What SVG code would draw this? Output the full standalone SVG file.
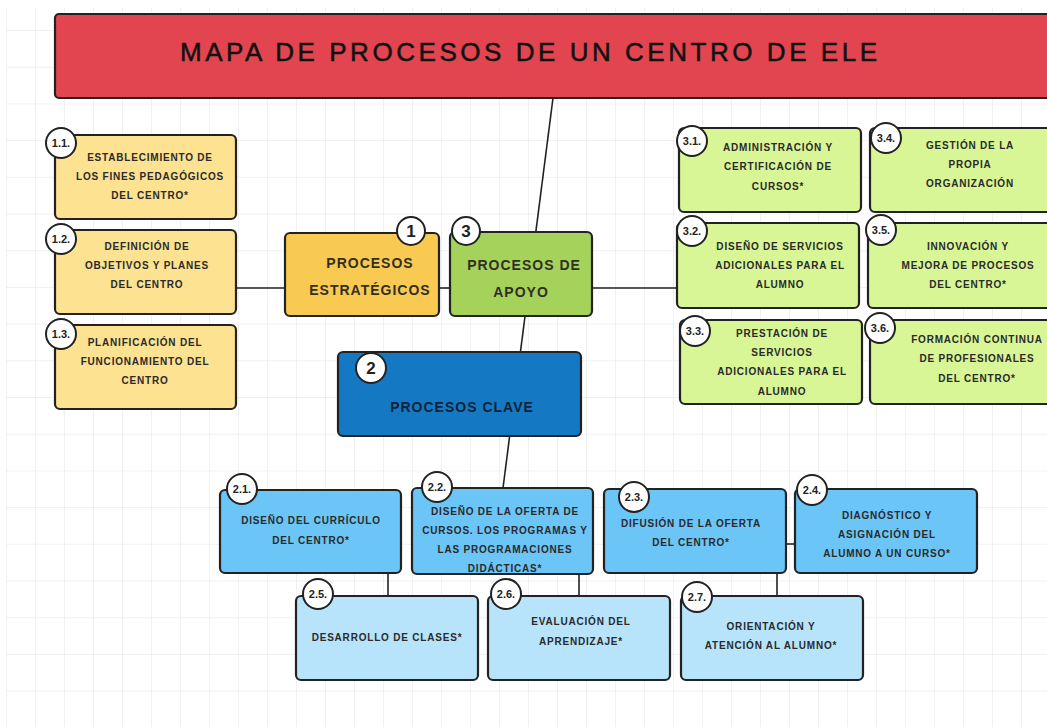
<svg xmlns="http://www.w3.org/2000/svg" width="1047" height="727" viewBox="0 0 1047 727">
<defs>
<pattern id="grid" x="6" y="30" width="29" height="36.7" patternUnits="userSpaceOnUse">
<path d="M0 0V36.7M0 0H29" fill="none" stroke="#e4e4e4" stroke-width="1"/>
</pattern>
<style>
.box{stroke:#222;stroke-width:2.2}
.t{font-family:"Liberation Sans",Arial,sans-serif;font-weight:bold;font-size:10px;letter-spacing:0.8px;fill:#2a2a2a;text-anchor:middle}
.m{font-family:"Liberation Sans",Arial,sans-serif;font-weight:bold;font-size:14px;letter-spacing:1px;fill:#332e22;text-anchor:middle}
.bd{fill:#fff;stroke:#222;stroke-width:2}
.bt{font-family:"Liberation Sans",Arial,sans-serif;font-weight:bold;font-size:11px;fill:#222;text-anchor:middle}
.bm{font-family:"Liberation Sans",Arial,sans-serif;font-weight:bold;font-size:17px;fill:#222;text-anchor:middle}
.c{stroke:#222;stroke-width:1.6;fill:none}
.ys{fill:#fde291}.gs{fill:#d8f696}.bs{fill:#6cc5f7}.ls{fill:#b8e4fb}
</style>
</defs>
<rect width="1047" height="727" fill="#fff"/>
<rect x="6" y="8" width="1041" height="719" fill="url(#grid)"/>

<g id="connectors">
<line class="c" x1="553" y1="98" x2="503" y2="488"/>
<line class="c" x1="237" y1="288" x2="285" y2="288"/>
<line class="c" x1="439" y1="288" x2="450" y2="288"/>
<line class="c" x1="592" y1="288" x2="678" y2="288"/>
<line class="c" x1="388" y1="573" x2="388" y2="596" stroke-width="2.2"/>
<line class="c" x1="579" y1="574" x2="579" y2="596" stroke-width="2.2"/>
<line class="c" x1="777" y1="573" x2="777" y2="596" stroke-width="2.2"/>
<line class="c" x1="786" y1="544" x2="795" y2="544" stroke-width="2.2"/>
</g>

<g id="title">
<rect class="box" x="55" y="14" width="1000" height="84" rx="4" fill="#e2454f"/>
<text x="180" y="61" textLength="697" lengthAdjust="spacing" font-family="Liberation Sans,Arial,sans-serif" font-size="26" stroke="#111" stroke-width="0.5" fill="#111">MAPA DE PROCESOS DE UN CENTRO DE ELE</text>
</g>

<g id="n1">
<rect class="box" x="285" y="233" width="154" height="83" rx="5" fill="#f8ca52"/>
<text class="m" x="370" y="268">PROCESOS</text>
<text class="m" x="370" y="295">ESTRATÉGICOS</text>
<circle class="bd" cx="411" cy="231" r="14"/><text class="bm" x="411" y="237">1</text>
</g>
<g id="n3">
<rect class="box" x="450" y="232" width="142" height="84" rx="5" fill="#a4d25b"/>
<text class="m" x="524" y="270">PROCESOS DE</text>
<text class="m" x="521" y="297">APOYO</text>
<circle class="bd" cx="466" cy="231" r="14"/><text class="bm" x="466" y="237">3</text>
</g>
<g id="n2">
<rect class="box" x="338" y="352" width="243" height="84" rx="5" fill="#1479c2"/>
<text class="m" x="462" y="412" style="fill:#0f2238">PROCESOS CLAVE</text>
<circle class="bd" cx="371" cy="368" r="15"/><text class="bm" x="371" y="374">2</text>
</g>

<g id="n1-1">
<rect class="box ys" x="55" y="135" width="181" height="84" rx="5"/>
<text class="t" x="150" y="161">ESTABLECIMIENTO DE</text>
<text class="t" x="150" y="180">LOS FINES PEDAGÓGICOS</text>
<text class="t" x="150" y="199">DEL CENTRO*</text>
<circle class="bd" cx="61" cy="143" r="15"/><text class="bt" x="61" y="147">1.1.</text>
</g>
<g id="n1-2">
<rect class="box ys" x="55" y="230" width="181" height="84" rx="5"/>
<text class="t" x="147" y="250">DEFINICIÓN DE</text>
<text class="t" x="147" y="269">OBJETIVOS Y PLANES</text>
<text class="t" x="147" y="288">DEL CENTRO</text>
<circle class="bd" cx="61" cy="239" r="15"/><text class="bt" x="61" y="243">1.2.</text>
</g>
<g id="n1-3">
<rect class="box ys" x="55" y="325" width="181" height="84" rx="5"/>
<text class="t" x="145" y="346">PLANIFICACIÓN DEL</text>
<text class="t" x="145" y="365">FUNCIONAMIENTO DEL</text>
<text class="t" x="145" y="384">CENTRO</text>
<circle class="bd" cx="61" cy="334" r="15"/><text class="bt" x="61" y="338">1.3.</text>
</g>

<g id="n3-1">
<rect class="box gs" x="679" y="128" width="182" height="84" rx="5"/>
<text class="t" x="778" y="151">ADMINISTRACIÓN Y</text>
<text class="t" x="778" y="170">CERTIFICACIÓN DE</text>
<text class="t" x="778" y="190">CURSOS*</text>
<circle class="bd" cx="692" cy="141" r="15"/><text class="bt" x="692" y="145">3.1.</text>
</g>
<g id="n3-4">
<rect class="box gs" x="870" y="128" width="190" height="84" rx="5"/>
<text class="t" x="970" y="149">GESTIÓN DE LA</text>
<text class="t" x="970" y="168">PROPIA</text>
<text class="t" x="970" y="187">ORGANIZACIÓN</text>
<circle class="bd" cx="886" cy="138" r="15"/><text class="bt" x="886" y="142">3.4.</text>
</g>
<g id="n3-2">
<rect class="box gs" x="677" y="223" width="182" height="85" rx="5"/>
<text class="t" x="780" y="250">DISEÑO DE SERVICIOS</text>
<text class="t" x="780" y="269">ADICIONALES PARA EL</text>
<text class="t" x="780" y="288">ALUMNO</text>
<circle class="bd" cx="692" cy="231" r="15"/><text class="bt" x="692" y="235">3.2.</text>
</g>
<g id="n3-5">
<rect class="box gs" x="868" y="223" width="190" height="85" rx="5"/>
<text class="t" x="968" y="250">INNOVACIÓN Y</text>
<text class="t" x="968" y="269">MEJORA DE PROCESOS</text>
<text class="t" x="968" y="288">DEL CENTRO*</text>
<circle class="bd" cx="881" cy="230" r="15"/><text class="bt" x="881" y="234">3.5.</text>
</g>
<g id="n3-3">
<rect class="box gs" x="680" y="320" width="182" height="84" rx="5"/>
<text class="t" x="782" y="337">PRESTACIÓN DE</text>
<text class="t" x="782" y="356">SERVICIOS</text>
<text class="t" x="782" y="375">ADICIONALES PARA EL</text>
<text class="t" x="782" y="395">ALUMNO</text>
<circle class="bd" cx="695" cy="331" r="15"/><text class="bt" x="695" y="335">3.3.</text>
</g>
<g id="n3-6">
<rect class="box gs" x="870" y="320" width="190" height="84" rx="5"/>
<text class="t" x="977" y="343">FORMACIÓN CONTINUA</text>
<text class="t" x="977" y="362">DE PROFESIONALES</text>
<text class="t" x="977" y="382">DEL CENTRO*</text>
<circle class="bd" cx="880" cy="328" r="15"/><text class="bt" x="880" y="332">3.6.</text>
</g>

<g id="n2-1">
<rect class="box bs" x="220" y="490" width="181" height="83" rx="5"/>
<text class="t" x="311" y="524">DISEÑO DEL CURRÍCULO</text>
<text class="t" x="311" y="544">DEL CENTRO*</text>
<circle class="bd" cx="242" cy="489" r="15"/><text class="bt" x="242" y="493">2.1.</text>
</g>
<g id="n2-2">
<rect class="box bs" x="412" y="488" width="181" height="86" rx="5"/>
<text class="t" x="505" y="515">DISEÑO DE LA OFERTA DE</text>
<text class="t" x="505" y="534">CURSOS. LOS PROGRAMAS Y</text>
<text class="t" x="505" y="553">LAS PROGRAMACIONES</text>
<text class="t" x="505" y="572">DIDÁCTICAS*</text>
<circle class="bd" cx="437" cy="487" r="15"/><text class="bt" x="437" y="491">2.2.</text>
</g>
<g id="n2-3">
<rect class="box bs" x="604" y="489" width="182" height="84" rx="5"/>
<text class="t" x="691" y="527">DIFUSIÓN DE LA OFERTA</text>
<text class="t" x="691" y="546">DEL CENTRO*</text>
<circle class="bd" cx="634" cy="497" r="15"/><text class="bt" x="634" y="501">2.3.</text>
</g>
<g id="n2-4">
<rect class="box bs" x="795" y="489" width="182" height="84" rx="5"/>
<text class="t" x="887" y="519">DIAGNÓSTICO Y</text>
<text class="t" x="887" y="538">ASIGNACIÓN DEL</text>
<text class="t" x="887" y="557">ALUMNO A UN CURSO*</text>
<circle class="bd" cx="812" cy="490" r="15"/><text class="bt" x="812" y="494">2.4.</text>
</g>
<g id="n2-5">
<rect class="box ls" x="296" y="596" width="182" height="84" rx="5"/>
<text class="t" x="387" y="641">DESARROLLO DE CLASES*</text>
<circle class="bd" cx="318" cy="594" r="15"/><text class="bt" x="318" y="598">2.5.</text>
</g>
<g id="n2-6">
<rect class="box ls" x="488" y="596" width="182" height="84" rx="5"/>
<text class="t" x="581" y="625">EVALUACIÓN DEL</text>
<text class="t" x="581" y="645">APRENDIZAJE*</text>
<circle class="bd" cx="506" cy="594" r="15"/><text class="bt" x="506" y="598">2.6.</text>
</g>
<g id="n2-7">
<rect class="box ls" x="681" y="596" width="182" height="84" rx="5"/>
<text class="t" x="771" y="630">ORIENTACIÓN Y</text>
<text class="t" x="771" y="649">ATENCIÓN AL ALUMNO*</text>
<circle class="bd" cx="697" cy="597" r="15"/><text class="bt" x="697" y="601">2.7.</text>
</g>
</svg>
